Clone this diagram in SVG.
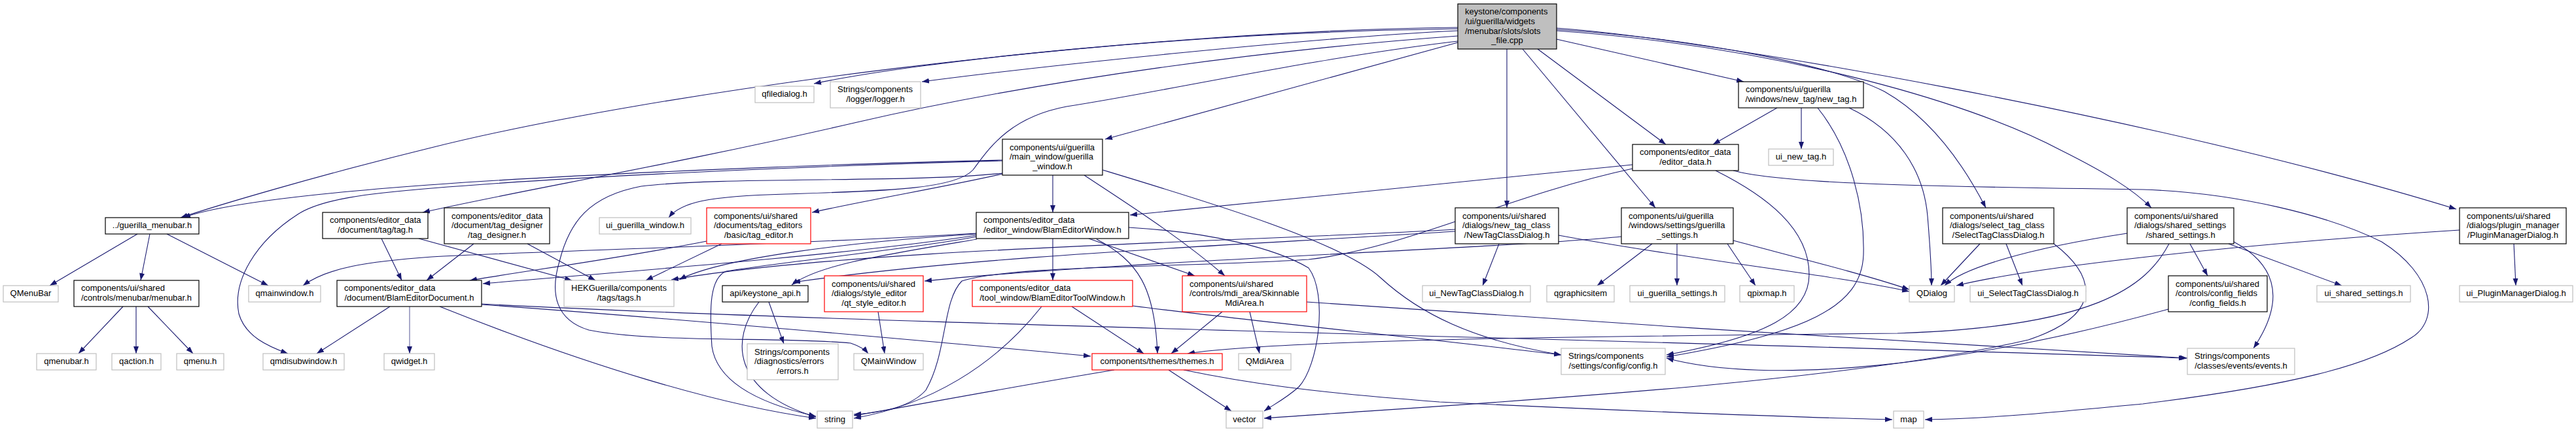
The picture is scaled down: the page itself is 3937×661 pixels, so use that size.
<svg xmlns="http://www.w3.org/2000/svg" width="3937" height="661" viewBox="0 0 3937 661">
<style>
text{font-family:"Liberation Sans",Arial,sans-serif;font-size:13px;fill:#000}
.c{text-anchor:middle}
.doc{fill:#fff;stroke:#000;stroke-width:1.2}
.ext{fill:#fff;stroke:#bfbfbf;stroke-width:1.2}
.red{fill:#fff;stroke:#ff0000;stroke-width:1.2}
.main{fill:#bfbfbf;stroke:#000;stroke-width:1.2}
.e{fill:none;stroke:#191970;stroke-width:1.1;marker-end:url(#a)}
.e2{fill:none;stroke:#63659e;stroke-width:1.1;marker-end:url(#a)}
</style>
<defs>
<marker id="a" markerWidth="11" markerHeight="8" refX="11" refY="4" orient="auto" markerUnits="userSpaceOnUse"><path d="M0,0 L11,4 L0,8 z" fill="#191970"/></marker>
</defs>
<rect width="3937" height="661" fill="#fff"/>
<g id="edges">
<path class="e" d="M2228,42 C1700,48 1000,140 655,227 C480,270 330,315 276,333"/>
<path class="e" d="M2228,44 C1800,50 1400,95 1244,128"/>
<path class="e" d="M2228,47 C2000,58 1600,100 1409,125"/>
<path class="e" d="M2228,55 C1950,75 1600,120 1310,187 S800,290 646,325"/>
<path class="e" d="M2228,63 C2000,90 1780,140 1630,163 C1540,180 1510,230 1487,260 C1460,290 1350,292 1200,297 C1080,300 1040,310 1022,333"/>
<path class="e" d="M2228,65 L1689,213"/>
<path class="e" d="M2379,60 L2665,125"/>
<path class="e" d="M2379,45 C2600,60 2800,100 2880,140 C2950,180 3000,250 3035,318"/>
<path class="e" d="M2379,47 C2700,70 3000,150 3150,230 C3220,265 3260,290 3288,318"/>
<path class="e" d="M2379,43 C2600,58 3300,180 3754,320"/>
<path class="e" d="M2350,75 L2546,221"/>
<path class="e" d="M2327,75 L2530,318"/>
<path class="e" d="M2303,75 L2303,318"/>
<path class="e" d="M2716,165 L2618,221"/>
<path class="e" d="M2753,165 L2753,228"/>
<path class="e" d="M2778,165 C2830,230 2850,320 2848,390 C2845,470 2760,510 2547,546"/>
<path class="e" d="M2826,165 C2900,200 2940,260 2946,331 C2950,380 2952,410 2952,437"/>
<path class="e" d="M2495,252 C2200,282 1900,310 1727,329"/>
<path class="e" d="M2649,261 C2720,280 2900,285 3275,290 C3420,295 3560,330 3640,370 C3720,420 3730,490 3685,517 C3620,560 3500,590 3275,618 C3150,630 3050,640 2942,642"/>
<path class="e" d="M2622,261 C2700,300 2765,350 2765,420 C2765,480 2700,515 2547,543"/>
<path class="e" d="M2495,258 C2300,300 2150,380 2000,397 C1800,410 1550,405 1470,430 C1440,460 1448,540 1415,597 C1390,625 1340,632 1305,634"/>
<path class="e" d="M1532,245 C1300,250 900,265 655,283 C450,298 330,315 280,333"/>
<path class="e" d="M1532,246 C1300,252 900,268 660,288 C560,296 490,305 455,328 C390,370 355,430 365,480 C375,515 410,530 440,541"/>
<path class="e" d="M1532,266 C1450,285 1330,305 1241,325"/>
<path class="e" d="M1609,268 L1609,325"/>
<path class="e" d="M1657,268 C1720,310 1800,360 1872,422"/>
<path class="e" d="M1685,260 C1850,310 2050,370 2110,425 C2170,480 2250,520 2386,543"/>
<path class="e" d="M1532,265 C1400,280 1100,270 980,285 C900,300 870,340 855,400 C840,450 850,490 900,505 C1000,525 1200,515 1300,525 C1315,530 1322,535 1327,541"/>
<path class="e" d="M1609,365 L1609,429"/>
<path class="e" d="M1676,366 C1740,400 1765,440 1769,541"/>
<path class="e" d="M1664,365 L1826,422"/>
<path class="e" d="M1492,357 C1200,375 800,385 660,393 C560,400 500,410 463,437"/>
<path class="e" d="M1492,360 C1300,390 900,420 738,434"/>
<path class="e" d="M1493,362 C1400,380 1200,400 1110,415 C1085,425 1084,470 1088,530 C1095,580 1150,615 1247,637"/>
<path class="e" d="M1493,358 C1300,370 1100,395 1038,428"/>
<path class="e" d="M1493,366 C1350,390 1250,405 1210,436"/>
<path class="e" d="M1725,348 C1850,355 1950,380 2000,410 C2030,450 2015,560 1985,592 C1965,610 1945,620 1932,629"/>
<path class="e" d="M1638,469 L1748,541"/>
<path class="e" d="M1592,469 C1520,560 1420,620 1305,640"/>
<path class="e" d="M1731,468 C1900,490 2200,520 2386,543"/>
<path class="e" d="M1868,477 L1790,541"/>
<path class="e" d="M1910,477 L1925,541"/>
<path class="e" d="M1997,462 C2400,490 3000,530 3343,548"/>
<path class="e" d="M1786,566 L1882,629"/>
<path class="e" d="M1703,566 C1500,600 1400,620 1305,636"/>
<path class="e" d="M1809,566 C1900,585 2000,600 2200,615 C2500,630 2800,640 2892,642"/>
<path class="e" d="M596,469 L484,541"/>
<path class="e2" d="M626,469 L626,541"/>
<path class="e" d="M736,466 C1000,485 1400,520 1667,545"/>
<path class="e" d="M736,465 C1300,495 2500,520 3341,548"/>
<path class="e" d="M672,469 C900,560 1100,620 1247,640"/>
<path class="e" d="M1175,462 L1198,526"/>
<path class="e" d="M1160,462 C1115,520 1120,600 1247,638"/>
<path class="e" d="M1342,477 L1352,541"/>
<path class="e" d="M583,365 L614,429"/>
<path class="e" d="M640,365 L874,429"/>
<path class="e" d="M724,373 L652,429"/>
<path class="e" d="M806,373 L910,429"/>
<path class="e" d="M1103,373 L987,429"/>
<path class="e" d="M1080,369 C950,395 800,415 718,429"/>
<path class="e" d="M210,358 L76,437"/>
<path class="e" d="M229,358 L215,429"/>
<path class="e" d="M255,358 L410,437"/>
<path class="e" d="M188,469 L120,541"/>
<path class="e" d="M208,469 L208,541"/>
<path class="e" d="M226,469 L295,541"/>
<path class="e" d="M2291,373 L2266,437"/>
<path class="e" d="M2382,360 C2600,400 2800,420 2918,446"/>
<path class="e" d="M2224,351 C1900,370 1300,380 1026,428"/>
<path class="e" d="M2224,354 C1900,375 1500,390 1212,432"/>
<path class="e" d="M2525,373 L2441,437"/>
<path class="e" d="M2563,373 L2563,437"/>
<path class="e" d="M2640,373 L2683,437"/>
<path class="e" d="M2649,368 C2750,395 2850,420 2918,443"/>
<path class="e" d="M2478,362 C2300,380 1700,400 1413,430"/>
<path class="e" d="M3026,373 L2966,437"/>
<path class="e" d="M3066,373 L3091,437"/>
<path class="e" d="M3139,373 C3200,420 3220,480 3100,520 C2800,590 2200,620 1932,640"/>
<path class="e" d="M3251,357 C3100,380 3000,410 2972,437"/>
<path class="e" d="M3347,373 L3374,422"/>
<path class="e" d="M3406,373 L3579,437"/>
<path class="e" d="M3414,370 C3470,400 3500,450 3444,533"/>
<path class="e" d="M3315,373 C3280,440 3200,500 2900,510 C2400,515 1950,520 1815,541"/>
<path class="e" d="M3314,473 C3000,560 2700,590 2547,548"/>
<path class="e" d="M3842,373 L3845,437"/>
<path class="e" d="M3759,352 C3400,375 3100,410 2990,437"/>
</g>
<g id="n_main"><rect class="main" x="2228" y="6" width="151" height="69"/><text x="2239" y="22.4">keystone/components</text><text x="2239" y="37">/ui/guerilla/widgets</text><text x="2239" y="51.6">/menubar/slots/slots</text><text class="c" x="2303.5" y="66.2">_file.cpp</text></g>
<g id="n_qfiledialog"><rect class="ext" x="1154" y="132" width="90" height="25"/><text class="c" x="1199" y="148.3">qfiledialog.h</text></g>
<g id="n_logger"><rect class="ext" x="1269" y="125" width="138" height="40"/><text x="1280" y="141.1">Strings/components</text><text class="c" x="1338" y="155.7">/logger/logger.h</text></g>
<g id="n_new_tag"><rect class="doc" x="2657" y="125" width="191" height="40"/><text x="2668" y="141.1">components/ui/guerilla</text><text class="c" x="2752.5" y="155.7">/windows/new_tag/new_tag.h</text></g>
<g id="n_guerilla_window"><rect class="doc" x="1532" y="213" width="153" height="55"/><text x="1543" y="229.7">components/ui/guerilla</text><text x="1543" y="244.3">/main_window/guerilla</text><text class="c" x="1608.5" y="258.9">_window.h</text></g>
<g id="n_editor_data"><rect class="doc" x="2495" y="221" width="162" height="40"/><text x="2506" y="237.1">components/editor_data</text><text class="c" x="2576" y="251.7">/editor_data.h</text></g>
<g id="n_ui_new_tag"><rect class="ext" x="2703" y="228" width="99" height="25"/><text class="c" x="2752.5" y="244.3">ui_new_tag.h</text></g>
<g id="n_guerilla_menubar"><rect class="doc" x="161" y="333" width="143" height="25"/><text class="c" x="232.5" y="349.3">../guerilla_menubar.h</text></g>
<g id="n_tag"><rect class="doc" x="493" y="325" width="161" height="40"/><text x="504" y="341.1">components/editor_data</text><text class="c" x="573.5" y="355.7">/document/tag/tag.h</text></g>
<g id="n_tag_designer"><rect class="doc" x="679" y="318" width="161" height="55"/><text x="690" y="334.7">components/editor_data</text><text x="690" y="349.3">/document/tag_designer</text><text class="c" x="759.5" y="363.9">/tag_designer.h</text></g>
<g id="n_ui_guerilla_window"><rect class="ext" x="916" y="333" width="140" height="25"/><text class="c" x="986" y="349.3">ui_guerilla_window.h</text></g>
<g id="n_tag_editor"><rect class="red" x="1080" y="318" width="159" height="55"/><text x="1091" y="334.7">components/ui/shared</text><text x="1091" y="349.3">/documents/tag_editors</text><text class="c" x="1159.5" y="363.9">/basic/tag_editor.h</text></g>
<g id="n_BlamEditorWindow"><rect class="doc" x="1492" y="325" width="233" height="40"/><text x="1503" y="341.1">components/editor_data</text><text class="c" x="1608.5" y="355.7">/editor_window/BlamEditorWindow.h</text></g>
<g id="n_NewTagClassDialog"><rect class="doc" x="2224" y="318" width="158" height="55"/><text x="2235" y="334.7">components/ui/shared</text><text x="2235" y="349.3">/dialogs/new_tag_class</text><text class="c" x="2303" y="363.9">/NewTagClassDialog.h</text></g>
<g id="n_guerilla_settings"><rect class="doc" x="2478" y="318" width="171" height="55"/><text x="2489" y="334.7">components/ui/guerilla</text><text x="2489" y="349.3">/windows/settings/guerilla</text><text class="c" x="2563.5" y="363.9">_settings.h</text></g>
<g id="n_SelectTagClassDialog"><rect class="doc" x="2969" y="318" width="170" height="55"/><text x="2980" y="334.7">components/ui/shared</text><text x="2980" y="349.3">/dialogs/select_tag_class</text><text class="c" x="3054" y="363.9">/SelectTagClassDialog.h</text></g>
<g id="n_shared_settings"><rect class="doc" x="3251" y="318" width="163" height="55"/><text x="3262" y="334.7">components/ui/shared</text><text x="3262" y="349.3">/dialogs/shared_settings</text><text class="c" x="3332.5" y="363.9">/shared_settings.h</text></g>
<g id="n_PluginManagerDialog"><rect class="doc" x="3759" y="318" width="163" height="55"/><text x="3770" y="334.7">components/ui/shared</text><text x="3770" y="349.3">/dialogs/plugin_manager</text><text class="c" x="3840.5" y="363.9">/PluginManagerDialog.h</text></g>
<g id="n_QMenuBar"><rect class="ext" x="5" y="437" width="84" height="25"/><text class="c" x="47" y="453.3">QMenuBar</text></g>
<g id="n_menubar"><rect class="doc" x="113" y="429" width="191" height="40"/><text x="124" y="445.1">components/ui/shared</text><text class="c" x="208.5" y="459.7">/controls/menubar/menubar.h</text></g>
<g id="n_qmainwindow"><rect class="ext" x="380" y="437" width="110" height="25"/><text class="c" x="435" y="453.3">qmainwindow.h</text></g>
<g id="n_BlamEditorDocument"><rect class="doc" x="515" y="429" width="221" height="40"/><text x="526" y="445.1">components/editor_data</text><text class="c" x="625.5" y="459.7">/document/BlamEditorDocument.h</text></g>
<g id="n_tags"><rect class="ext" x="862" y="429" width="168" height="40"/><text x="873" y="445.1">HEKGuerilla/components</text><text class="c" x="946" y="459.7">/tags/tags.h</text></g>
<g id="n_keystone_api"><rect class="doc" x="1104" y="437" width="131" height="25"/><text class="c" x="1169.5" y="453.3">api/keystone_api.h</text></g>
<g id="n_qt_style_editor"><rect class="red" x="1260" y="422" width="151" height="55"/><text x="1271" y="438.7">components/ui/shared</text><text x="1271" y="453.3">/dialogs/style_editor</text><text class="c" x="1335.5" y="467.9">/qt_style_editor.h</text></g>
<g id="n_BlamEditorToolWindow"><rect class="red" x="1486" y="429" width="245" height="40"/><text x="1497" y="445.1">components/editor_data</text><text class="c" x="1608.5" y="459.7">/tool_window/BlamEditorToolWindow.h</text></g>
<g id="n_SkinnableMdiArea"><rect class="red" x="1807" y="422" width="190" height="55"/><text x="1818" y="438.7">components/ui/shared</text><text x="1818" y="453.3">/controls/mdi_area/Skinnable</text><text class="c" x="1902" y="467.9">MdiArea.h</text></g>
<g id="n_ui_NewTagClassDialog"><rect class="ext" x="2174" y="437" width="165" height="25"/><text class="c" x="2256.5" y="453.3">ui_NewTagClassDialog.h</text></g>
<g id="n_qgraphicsitem"><rect class="ext" x="2364" y="437" width="103" height="25"/><text class="c" x="2415.5" y="453.3">qgraphicsitem</text></g>
<g id="n_ui_guerilla_settings"><rect class="ext" x="2491" y="437" width="145" height="25"/><text class="c" x="2563.5" y="453.3">ui_guerilla_settings.h</text></g>
<g id="n_qpixmap"><rect class="ext" x="2659" y="437" width="83" height="25"/><text class="c" x="2700.5" y="453.3">qpixmap.h</text></g>
<g id="n_QDialog"><rect class="ext" x="2918" y="437" width="69" height="25"/><text class="c" x="2952.5" y="453.3">QDialog</text></g>
<g id="n_ui_SelectTagClassDialog"><rect class="ext" x="3011" y="437" width="177" height="25"/><text class="c" x="3099.5" y="453.3">ui_SelectTagClassDialog.h</text></g>
<g id="n_config_fields"><rect class="doc" x="3314" y="422" width="151" height="55"/><text x="3325" y="438.7">components/ui/shared</text><text x="3325" y="453.3">/controls/config_fields</text><text class="c" x="3389.5" y="467.9">/config_fields.h</text></g>
<g id="n_ui_shared_settings"><rect class="ext" x="3541" y="437" width="143" height="25"/><text class="c" x="3612.5" y="453.3">ui_shared_settings.h</text></g>
<g id="n_ui_PluginManagerDialog"><rect class="ext" x="3759" y="437" width="173" height="25"/><text class="c" x="3845.5" y="453.3">ui_PluginManagerDialog.h</text></g>
<g id="n_qmenubar"><rect class="ext" x="56" y="541" width="91" height="25"/><text class="c" x="101.5" y="557.3">qmenubar.h</text></g>
<g id="n_qaction"><rect class="ext" x="171" y="541" width="75" height="25"/><text class="c" x="208.5" y="557.3">qaction.h</text></g>
<g id="n_qmenu"><rect class="ext" x="270" y="541" width="72" height="25"/><text class="c" x="306" y="557.3">qmenu.h</text></g>
<g id="n_qmdisubwindow"><rect class="ext" x="402" y="541" width="124" height="25"/><text class="c" x="464" y="557.3">qmdisubwindow.h</text></g>
<g id="n_qwidget"><rect class="ext" x="587" y="541" width="77" height="25"/><text class="c" x="625.5" y="557.3">qwidget.h</text></g>
<g id="n_errors"><rect class="ext" x="1142" y="526" width="139" height="55"/><text x="1153" y="542.7">Strings/components</text><text x="1153" y="557.3">/diagnostics/errors</text><text class="c" x="1211.5" y="571.9">/errors.h</text></g>
<g id="n_QMainWindow"><rect class="ext" x="1305" y="541" width="106" height="25"/><text class="c" x="1358" y="557.3">QMainWindow</text></g>
<g id="n_themes"><rect class="red" x="1669" y="541" width="199" height="25"/><text class="c" x="1768.5" y="557.3">components/themes/themes.h</text></g>
<g id="n_QMdiArea"><rect class="ext" x="1893" y="541" width="80" height="25"/><text class="c" x="1933" y="557.3">QMdiArea</text></g>
<g id="n_config"><rect class="ext" x="2386" y="533" width="159" height="40"/><text x="2397" y="549.1">Strings/components</text><text class="c" x="2465.5" y="563.7">/settings/config/config.h</text></g>
<g id="n_events"><rect class="ext" x="3343" y="533" width="164" height="40"/><text x="3354" y="549.1">Strings/components</text><text class="c" x="3425" y="563.7">/classes/events/events.h</text></g>
<g id="n_string"><rect class="ext" x="1249" y="629" width="54" height="26"/><text class="c" x="1276" y="646.3">string</text></g>
<g id="n_vector"><rect class="ext" x="1874" y="629" width="56" height="26"/><text class="c" x="1902" y="646.3">vector</text></g>
<g id="n_map"><rect class="ext" x="2894" y="629" width="46" height="26"/><text class="c" x="2917" y="646.3">map</text></g>
</svg>
